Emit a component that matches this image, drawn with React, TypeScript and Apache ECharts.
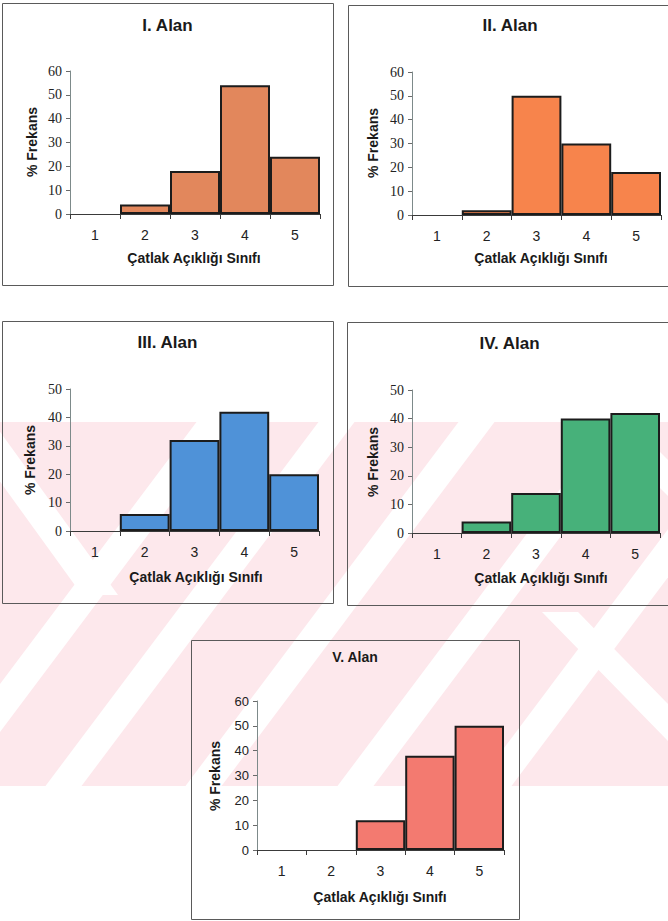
import React, { useEffect, useRef } from "react";
import * as echarts from "echarts";

// Crack aperture classes (x axis) and percentage frequencies per field
const classes = ["1", "2", "3", "4", "5"];
const alanI = [0, 4, 18, 54, 24];
const alanII = [0, 2, 50, 30, 18];
const alanIII = [0, 6, 32, 42, 20];
const alanIV = [0, 4, 14, 40, 42];
const alanV = [0, 0, 12, 38, 50];
const titles = ["I. Alan", "II. Alan", "III. Alan", "IV. Alan", "V. Alan"];
const yMax = [60, 60, 50, 50, 60];
const yStep = 10;
const xTitle = "Çatlak Açıklığı Sınıfı";
const yTitle = "% Frekans";

const SANS = "'Liberation Sans', Arial, sans-serif";
const SERIF = "'Liberation Serif', 'Times New Roman', serif";

// Page layout of the five framed panels
const panels = [
  { data: alanI, color: "#e2875c", box: [2, 3, 333, 285], plot: [70, 71, 320, 214], titleY: 25, titleSize: 17, tickFont: SERIF, tickSize: 14, xTitlePos: [194, 258], yTitlePos: [32, 142] },
  { data: alanII, color: "#f7844c", box: [348, 5, 672, 286], plot: [412, 72, 661, 215], titleY: 25, titleSize: 17, tickFont: SERIF, tickSize: 14, xTitlePos: [541, 258], yTitlePos: [373, 143] },
  { data: alanIII, color: "#4f92d8", box: [2, 321, 333, 603], plot: [70, 389, 319, 531], titleY: 342, titleSize: 17, tickFont: SERIF, tickSize: 14, xTitlePos: [196, 577], yTitlePos: [30, 460] },
  { data: alanIV, color: "#47b17a", box: [347, 322, 672, 605], plot: [412, 390, 660, 533], titleY: 343, titleSize: 17, tickFont: SERIF, tickSize: 14, xTitlePos: [541, 578], yTitlePos: [373, 462] },
  { data: alanV, color: "#f37a70", box: [191, 640, 519, 919], plot: [257, 701, 504, 850], titleY: 657, titleSize: 14, tickFont: SANS, tickSize: 13, xTitlePos: [380, 897], yTitlePos: [215, 776] },
];

// Faint diagonal background pattern behind the lower panels
function backgroundPattern() {
  const top = 422;
  const bottom = 786;
  const pink = "#fde8ec";
  const els: any[] = [
    { type: "rect", z: -10, silent: true, shape: { x: 0, y: top, width: 668, height: bottom - top }, style: { fill: pink } },
  ];
  const w = 36;
  const k = 0.75;
  const forward = [78, 200, 340, 492, 630];
  forward.forEach((c) => {
    const xt = c + k * (604 - top);
    const xb = c - k * (bottom - 604);
    els.push({
      type: "polygon", z: -9, silent: true,
      shape: { points: [[xb - w / 2, bottom], [xb + w / 2, bottom], [xt + w / 2, top], [xt - w / 2, top]] },
      style: { fill: "#ffffff" },
    });
  });
  const back = [
    [-25, 422, 100, 595],
    [560, 612, 690, 745],
    [612, 422, 690, 500],
  ];
  back.forEach(([x0, y0, x1, y1]) => {
    els.push({
      type: "polygon", z: -9, silent: true,
      shape: { points: [[x0 - w / 2, y0], [x0 + w / 2, y0], [x1 + w / 2, y1], [x1 - w / 2, y1]] },
      style: { fill: "#ffffff" },
    });
  });
  return els;
}

function buildOption() {
  const grid: any[] = [];
  const xAxis: any[] = [];
  const yAxis: any[] = [];
  const series: any[] = [];
  const graphics: any[] = backgroundPattern();

  panels.forEach((p, i) => {
    const [l, t, r, b] = p.plot;
    grid.push({ left: l, top: t, width: r - l, height: b - t, containLabel: false, outerBoundsMode: "none" });
    xAxis.push({
      type: "category",
      gridIndex: i,
      data: classes,
      boundaryGap: true,
      axisLine: { show: true, lineStyle: { color: "#3a3a3a", width: 1 } },
      axisTick: { show: true, length: 5, alignWithLabel: false, lineStyle: { color: "#3a3a3a" } },
      axisLabel: { fontFamily: SANS, fontSize: 14, color: "#222", margin: 14 },
      splitLine: { show: false },
    });
    yAxis.push({
      type: "value",
      gridIndex: i,
      min: 0,
      max: yMax[i],
      interval: yStep,
      axisLine: { show: true, lineStyle: { color: "#7d8a8a", width: 1 } },
      axisTick: { show: true, length: 4, lineStyle: { color: "#6a6a6a" } },
      axisLabel: { fontFamily: p.tickFont, fontSize: p.tickSize, color: "#222", margin: 8 },
      splitLine: { show: false },
    });
    series.push({
      type: "bar",
      xAxisIndex: i,
      yAxisIndex: i,
      barCategoryGap: "0%",
      itemStyle: { color: p.color, borderColor: "#1c1c1c", borderWidth: 2 },
      data: p.data.map((v) => (v === 0 ? { value: 0, itemStyle: { borderWidth: 0 } } : v)),
    });

    const [bx0, by0, bx1, by1] = p.box;
    graphics.push({
      type: "rect", z: 1, silent: true,
      shape: { x: bx0 + 0.5, y: by0 + 0.5, width: bx1 - bx0, height: by1 - by0 },
      style: { fill: "none", stroke: "#5a5a5a", lineWidth: 1 },
    });
    graphics.push({
      type: "text", z: 5,
      x: (bx0 + bx1) / 2, y: p.titleY,
      style: { text: titles[i], fontFamily: SANS, fontWeight: "bold", fontSize: p.titleSize, fill: "#1a1a1a", textAlign: "center", textVerticalAlign: "middle" },
    });
    graphics.push({
      type: "text", z: 5,
      x: p.xTitlePos[0], y: p.xTitlePos[1],
      style: { text: xTitle, fontFamily: SANS, fontWeight: "bold", fontSize: 14, fill: "#1a1a1a", textAlign: "center", textVerticalAlign: "middle" },
    });
    graphics.push({
      type: "text", z: 5,
      x: p.yTitlePos[0], y: p.yTitlePos[1], rotation: Math.PI / 2,
      style: { text: yTitle, fontFamily: SANS, fontWeight: "bold", fontSize: 14, fill: "#1a1a1a", textAlign: "center", textVerticalAlign: "middle" },
    });
  });

  return {
    animation: false,
    backgroundColor: "#ffffff",
    grid,
    xAxis,
    yAxis,
    series,
    graphic: { elements: graphics },
  };
}

export default function App() {
  const ref = useRef<HTMLDivElement>(null);
  useEffect(() => {
    document.body.style.margin = "0";
    if (!ref.current) return;
    const chart = echarts.init(ref.current, null, { renderer: "svg" });
    chart.setOption(buildOption() as any);
    return () => chart.dispose();
  }, []);
  return <div ref={ref} style={{ width: 668, height: 921 }} />;
}
